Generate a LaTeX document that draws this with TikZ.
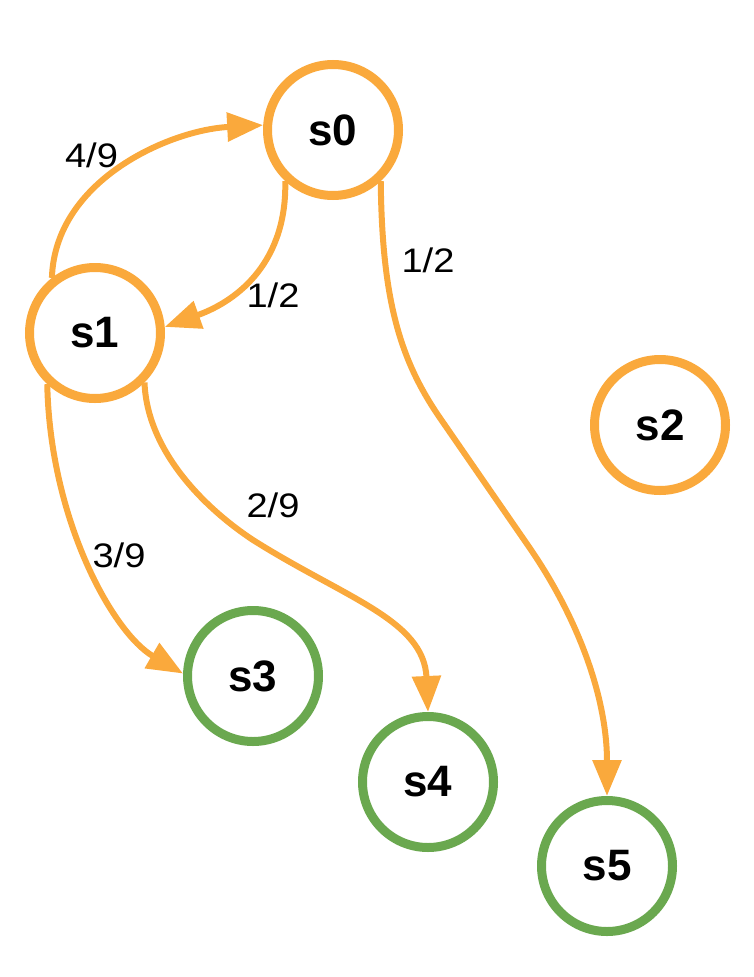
\documentclass[tikz,border=0pt]{standalone}
\usepackage{fontspec}
\setmainfont{Liberation Sans}
\usetikzlibrary{arrows.meta}
\definecolor{orng}{RGB}{250,169,60}
\definecolor{grn}{RGB}{106,168,79}
\begin{document}
\begin{tikzpicture}[x=1pt,y=-1pt,
  st/.style={circle,draw=#1,line width=9pt,fill=white,minimum size=131pt,inner sep=0pt,font=\fontsize{44}{48}\selectfont\bfseries},
  tr/.style={draw=orng,line width=6pt,-{Triangle[length=36pt,width=28pt]}},
  lb/.style={font=\fontsize{34}{38}\selectfont,inner sep=0pt,anchor=base}]
\useasboundingbox (0,0) rectangle (753,977);
\node[st=orng] (s0) at (333,130) {s0};
\node[st=orng] (s1) at (95,333) {s1};
\node[st=orng] (s2) at (660,425) {s2};
\node[st=grn] (s3) at (253,676) {s3};
\node[st=grn] (s4) at (428,782) {s4};
\node[st=grn] (s5) at (607,866) {s5};
\draw[tr] (s1.128) .. controls (55,180) and (170,130) .. (s0.176);
\draw[tr] (s0.227) .. controls (287,260) and (240,300) .. (s1.5);
\draw[tr] (s0.313) .. controls (382,300) and (400,360) .. (440,418)
  -- (527,544) .. controls (580,620) and (607,700) .. (s5.90);
\draw[tr] (s1.315) .. controls (147,450) and (203,507) .. (253,540)
  .. controls (345,598) and (424,620) .. (s4.90);
\draw[tr] (s1.227) .. controls (50,520) and (113,633) .. (s3.178);
\node[lb] (l1) at (91.5,167) {\scalebox{1.12}[1]{4/9}};
\node[lb] (l2) at (273,307) {\scalebox{1.12}[1]{1/2}};
\node[lb] (l3) at (428,272) {\scalebox{1.12}[1]{1/2}};
\node[lb] (l4) at (273,517) {\scalebox{1.12}[1]{2/9}};
\node[lb] (l5) at (119,567) {\scalebox{1.12}[1]{3/9}};
\end{tikzpicture}
\end{document}
